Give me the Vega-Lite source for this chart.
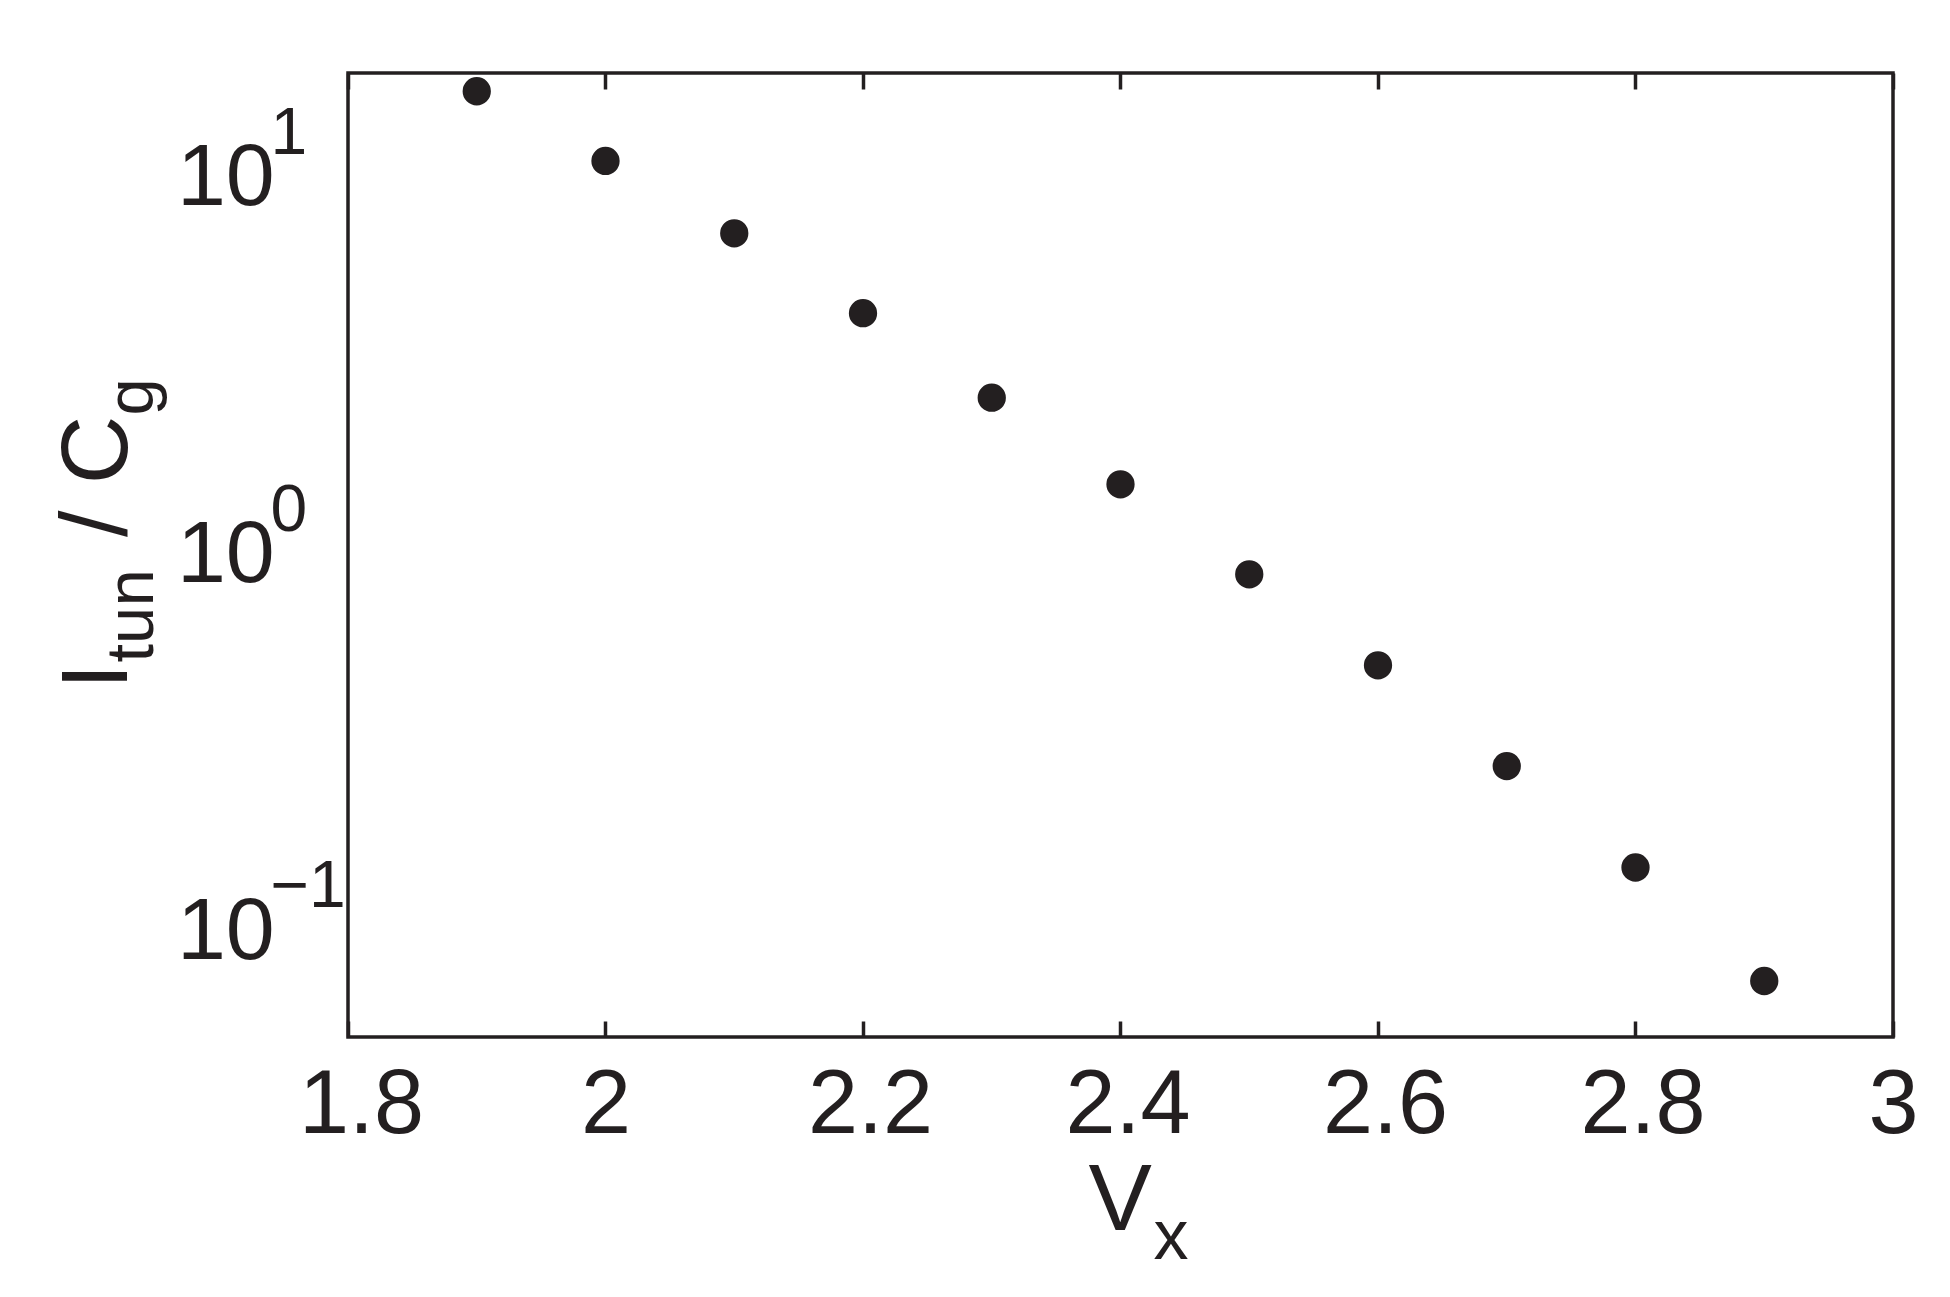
{
  "$schema": "https://vega.github.io/schema/vega-lite/v6.json",
  "width": 1545,
  "height": 964,
  "autosize": "none",
  "padding": {"left": 348, "top": 73, "right": 57, "bottom": 260},
  "background": "white",
  "config": {
    "view": {"stroke": "#231f20", "strokeWidth": 3.5},
    "axis": {
      "grid": false,
      "domain": false,
      "labelFont": "Liberation Sans",
      "titleFont": "Liberation Sans",
      "labelColor": "#231f20",
      "titleColor": "#231f20",
      "tickColor": "#231f20",
      "titleFontWeight": "normal",
      "labelFontWeight": "normal",
      "labelFlush": false,
      "labelOverlap": false
    }
  },
  "data": {
    "values": [
      {"V": 1.9, "I": 16.58},
      {"V": 2.0, "I": 10.83},
      {"V": 2.1, "I": 6.96},
      {"V": 2.2, "I": 4.27},
      {"V": 2.3, "I": 2.548},
      {"V": 2.4, "I": 1.501},
      {"V": 2.5, "I": 0.866},
      {"V": 2.6, "I": 0.4963},
      {"V": 2.7, "I": 0.2682},
      {"V": 2.8, "I": 0.1443},
      {"V": 2.9, "I": 0.0721}
    ]
  },
  "resolve": {"axis": {"x": "independent", "y": "independent"}},
  "layer": [
    {
      "mark": {"type": "point", "filled": true, "shape": "circle", "size": 800, "color": "#231f20", "opacity": 1},
      "encoding": {
        "x": {
          "field": "V", "type": "quantitative",
          "scale": {"domain": [1.8, 3.0], "nice": false, "zero": false},
          "axis": {
            "orient": "bottom",
            "values": [1.8, 2.0, 2.2, 2.4, 2.6, 2.8, 3.0],
            "format": "~g",
            "ticks": true, "tickSize": -16, "tickWidth": 3.5,
            "labelFontSize": 90, "labelPadding": 40, "labelFlush": false,
            "labelOffset": {
              "condition": [
                {"test": "datum.value < 1.9", "value": 13},
                {"test": "datum.value == 2 || datum.value == 3", "value": 0}
              ],
              "value": 7
            },
            "title": "V", "titleFontSize": 95, "titleAngle": 0,
            "titleX": 740, "titleY": 192, "titleAlign": "left", "titleBaseline": "alphabetic"
          }
        },
        "y": {
          "field": "I", "type": "quantitative",
          "scale": {"type": "log", "domain": [0.051205, 18.537], "nice": false},
          "axis": {
            "orient": "left",
            "values": [0.1, 1, 10],
            "labelExpr": "'10'",
            "ticks": false,
            "labelFontSize": 88, "labelAlign": "left", "labelBaseline": "middle",
            "labelPadding": 171.6, "labelOffset": 5,
            "title": "I", "titleFontSize": 95, "titleAngle": 270,
            "titleX": -222, "titleY": 616, "titleAlign": "left", "titleBaseline": "alphabetic"
          }
        }
      }
    },
    {
      "mark": {"type": "point", "filled": true, "shape": "circle", "size": 800, "color": "#231f20", "opacity": 0},
      "encoding": {
        "x": {
          "field": "V", "type": "quantitative",
          "axis": {
            "orient": "top",
            "values": [1.8, 2.0, 2.2, 2.4, 2.6, 2.8, 3.0],
            "labels": false,
            "ticks": true, "tickSize": -16, "tickWidth": 3.5,
            "title": "x", "titleFontSize": 70, "titleAngle": 0,
            "titleX": 805, "titleY": 1185, "titleAlign": "left", "titleBaseline": "alphabetic"
          }
        },
        "y": {
          "field": "I", "type": "quantitative",
          "axis": {
            "orient": "left",
            "values": [0.1, 1, 10],
            "labelExpr": "datum.value == 10 ? '1' : datum.value == 1 ? '0' : '\u22121'",
            "ticks": false,
            "labelFontSize": 66, "labelAlign": "left", "labelBaseline": "middle",
            "labelPadding": 78, "labelOffset": -40.7,
            "title": "tun", "titleFontSize": 67, "titleAngle": 270,
            "titleX": -196, "titleY": 589, "titleAlign": "left", "titleBaseline": "alphabetic"
          }
        }
      }
    },
    {
      "mark": {"type": "point", "filled": true, "shape": "circle", "size": 800, "color": "#231f20", "opacity": 0},
      "encoding": {
        "x": {"field": "V", "type": "quantitative", "axis": null},
        "y": {
          "field": "I", "type": "quantitative",
          "axis": {
            "orient": "left",
            "values": [0.1, 1, 10],
            "labels": false, "ticks": false,
            "title": "/ C", "titleFontSize": 95, "titleAngle": 270,
            "titleX": -222, "titleY": 463.6, "titleAlign": "left", "titleBaseline": "alphabetic"
          }
        }
      }
    },
    {
      "mark": {"type": "point", "filled": true, "shape": "circle", "size": 800, "color": "#231f20", "opacity": 0},
      "encoding": {
        "x": {"field": "V", "type": "quantitative", "axis": null},
        "y": {
          "field": "I", "type": "quantitative",
          "axis": {
            "orient": "left",
            "values": [0.1, 1, 10],
            "labels": false, "ticks": false,
            "title": "g", "titleFontSize": 67, "titleAngle": 270,
            "titleX": -196, "titleY": 342, "titleAlign": "left", "titleBaseline": "alphabetic"
          }
        }
      }
    }
  ]
}
